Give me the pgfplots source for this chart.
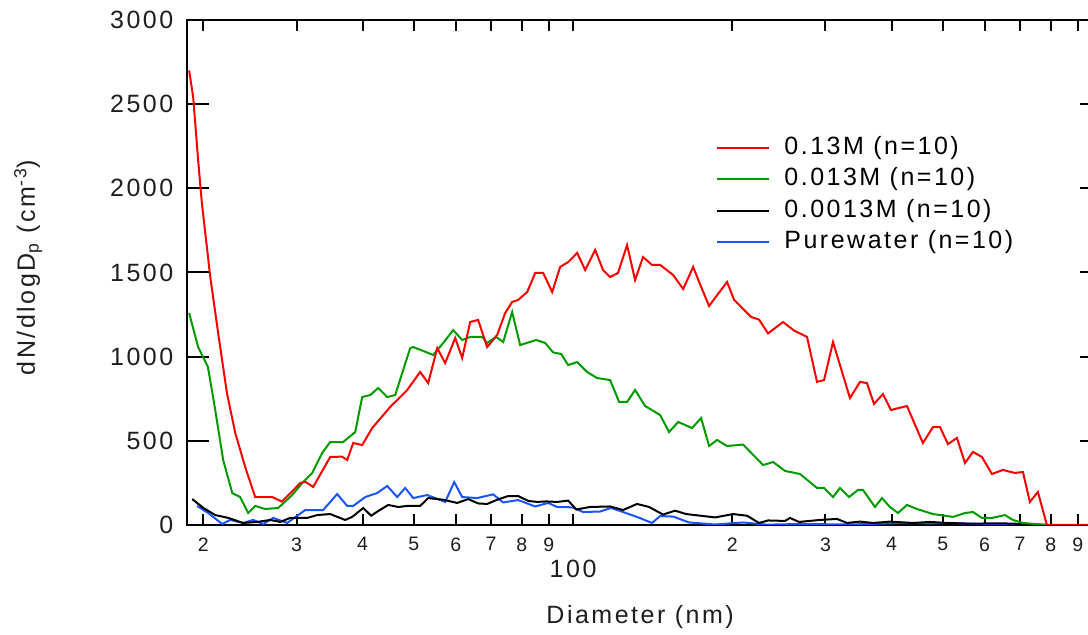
\documentclass[border=0pt]{standalone}
\usepackage{fontspec}
\setmainfont{Liberation Sans}[LetterSpace=10]
\usepackage{pgfplots}
\usepackage{pgfplotstable}
\pgfplotsset{compat=1.18}

\definecolor{sRed}{RGB}{250,0,0}
\definecolor{sGreen}{RGB}{0,155,0}
\definecolor{sBlue}{RGB}{25,85,255}
\definecolor{sTxt}{RGB}{30,30,30}

% 0.13M
\pgfplotstableread{
D N
18.80 2700
19.13 2544
19.55 2168
19.87 1913
20.61 1473
21.33 1140
22.16 784
22.98 546
23.99 345
25.06 166
26.99 166
28.15 139
29.41 198
30.48 249
31.16 257
32.26 226
34.74 404
36.55 406
37.41 386
38.40 487
39.93 475
41.71 576
45.10 701
48.57 802
51.39 909
53.22 843
55.35 1051
57.31 962
59.86 1111
61.71 992
63.90 1206
66.16 1218
68.80 1057
71.87 1129
74.42 1259
76.71 1325
78.74 1337
81.89 1384
84.80 1497
87.80 1497
91.31 1384
94.53 1533
97.89 1562
101.8 1616
105.4 1515
110.1 1634
113.9 1515
117.5 1473
121.6 1497
126.5 1663
131.0 1455
135.6 1592
141.0 1545
146.1 1545
154.6 1485
161.5 1402
168.7 1533
173.8 1430
180.8 1301
195.5 1444
201.6 1337
217.0 1236
224.7 1220
233.7 1138
249.4 1206
261.7 1155
276.9 1117
289.2 850
298.2 861
310.1 1087
333.8 754
348.7 850
359.5 843
370.6 719
385.5 778
399.1 683
427.8 707
458.6 487
479.1 582
493.9 582
511.4 481
531.8 517
550.7 368
570.2 434
593.0 404
619.3 303
649.7 327
684.6 309
708.8 315
730.6 137
756.6 196
786.8 0
1000 0
}\tabA

% 0.013M
\pgfplotstableread{
D N
18.80 1259
19.55 1057
20.40 939
21.06 683
21.80 386
22.68 190
23.47 166
24.31 71
25.06 113
26.18 95
27.70 101
29.44 178
30.75 249
32.12 309
33.55 428
34.74 493
36.76 493
38.74 552
39.93 760
41.34 772
42.82 814
44.52 760
46.10 772
49.21 1051
49.86 1057
52.07 1034
54.39 1010
56.82 1081
59.34 1158
61.71 1099
63.90 1117
67.32 1117
68.80 1081
71.55 1117
73.77 1087
76.71 1265
79.43 1069
85.17 1099
88.57 1081
91.71 1025
94.94 1016
97.89 950
101.8 968
106.3 909
111.0 873
117.5 861
122.2 731
126.5 731
131.0 802
136.8 707
146.1 653
151.9 552
158.0 612
167.9 576
174.6 635
180.8 469
187.2 505
195.5 469
209.6 478
228.7 356
238.9 374
251.6 321
268.6 303
289.2 220
298.2 220
310.1 166
319.6 220
332.4 166
345.7 208
353.3 208
372.3 107
383.8 160
397.3 107
411.4 71
427.8 119
446.8 95
479.1 65
522.7 48
550.7 71
570.2 77
593.0 42
619.3 42
655.4 59
678.6 30
708.8 12
786.8 0
}\tabB

% 0.0013M
\pgfplotstableread{
D N
19.05 154
20.00 101
21.06 59
22.29 42
23.78 12
25.28 18
26.76 30
27.94 18
29.19 42
31.43 42
32.83 59
34.74 65
37.08 30
38.23 48
40.11 101
41.52 55
42.82 83
44.72 119
46.70 107
48.57 113
51.39 113
53.22 160
56.82 150
60.38 131
63.35 154
66.16 128
68.80 125
71.87 150
75.39 172
78.74 172
82.25 143
85.53 137
88.95 140
93.31 137
97.89 145
101.4 92
107.7 107
117.5 110
124.3 89
132.1 125
139.2 107
148.0 62
155.9 85
163.6 65
185.6 45
200.7 65
213.3 55
224.7 12
233.7 27
251.6 24
257.1 42
267.4 18
293.0 30
315.5 36
329.5 12
348.7 20
369.0 12
397.3 20
439.1 12
472.8 18
509.2 12
562.8 8
641.2 10
730.6 5
786.8 0
}\tabC

% Purewater
\pgfplotstableread{
D N
19.47 113
20.43 71
21.71 6
22.48 30
23.78 12
24.84 30
25.95 6
27.11 42
28.81 12
30.22 59
31.16 89
33.70 89
35.81 184
37.41 113
38.40 113
40.46 166
42.63 190
44.52 232
46.50 166
48.15 220
49.86 160
52.99 178
57.31 137
59.60 255
61.71 166
65.87 160
70.62 182
73.77 134
78.74 148
84.80 110
89.73 131
93.31 107
99.60 105
104.5 77
112.5 80
118.0 101
124.3 77
132.1 48
141.0 12
146.1 53
154.6 50
165.7 15
185.6 3
209.6 15
232.7 2
268.6 6
333.8 3
380.4 8
415.0 12
472.8 10
515.9 12
587.8 5
763.2 0
}\tabD

\begin{document}
\begin{tikzpicture}
\begin{axis}[
  at={(0pt,0pt)}, anchor=south west,
  scale only axis, width=457.35pt, height=252.5pt,
  xmode=log, xmin=18.65, xmax=1000, ymin=0, ymax=3000,
  axis line style={line width=1pt, black},
  tick style={line width=1pt, black},
  tick align=inside,
  major tick length=11pt,
  xtick style={/pgfplots/major tick length=5.5pt},
  xtick={20,30,40,50,60,70,80,90,200,300,400,500,600,700,800,900},
  xticklabels={2,3,4,5,6,7,8,9,2,3,4,5,6,7,8,9},
  minor xtick={},
  extra x ticks={100},
  extra x tick labels={\fontsize{12.5}{15}\selectfont 100},
  extra x tick style={/pgfplots/major tick length=12pt,
    tick label style={yshift=-11.3pt}},
  xticklabel style={font=\fontsize{9.75}{12}\selectfont, text=sTxt, yshift=-2.75pt},
  ytick={0,500,1000,1500,2000,2500,3000},
  yticklabels={0,500,1000,1500,2000,2500,3000},
  yticklabel style={font=\fontsize{12.5}{15}\selectfont, text=sTxt, xshift=-3.5pt},
  xlabel={Diameter (nm)},
  xlabel style={at={(axis description cs:0.495,-0.1822)}, anchor=center,
    font=\fontsize{12.5}{15}\selectfont, text=sTxt},
  ylabel={dN/dlogD\textsubscript{p} (cm\textsuperscript{-3})},
  ylabel style={at={(axis description cs:-0.1740,0.51)}, anchor=center,
    font=\fontsize{12.5}{15}\selectfont, text=sTxt},
  legend cell align=left,
  legend image code/.code={\draw[#1] (0pt,0pt) -- (26pt,0pt);},
  legend style={at={(axis description cs:0.578,0.772)}, anchor=north west,
    draw=none, fill=none, inner sep=0pt, row sep=3.2pt,
    font=\fontsize{12.5}{15}\selectfont,
    nodes={inner sep=0pt, text height=9.5pt, text depth=3pt},
    /tikz/every odd column/.append style={column sep=7pt}},
]
\addlegendimage{sRed, line width=1pt}
\addlegendentry{0.13M (n=10)}
\addlegendimage{sGreen, line width=1pt}
\addlegendentry{0.013M (n=10)}
\addlegendimage{black, line width=1pt}
\addlegendentry{0.0013M (n=10)}
\addlegendimage{sBlue, line width=1pt}
\addlegendentry{Purewater (n=10)}

\addplot[sBlue, line width=1pt, forget plot] table[x=D, y=N] {\tabD};
\addplot[black, line width=1pt, forget plot] table[x=D, y=N] {\tabC};
\addplot[sGreen, line width=1pt, forget plot] table[x=D, y=N] {\tabB};
\addplot[sRed, line width=1pt, forget plot] table[x=D, y=N] {\tabA};
\end{axis}
\pgfresetboundingbox
\path[use as bounding box] (-93.65pt,-55pt) rectangle (450.35pt,262.5pt);
\end{tikzpicture}
\end{document}
